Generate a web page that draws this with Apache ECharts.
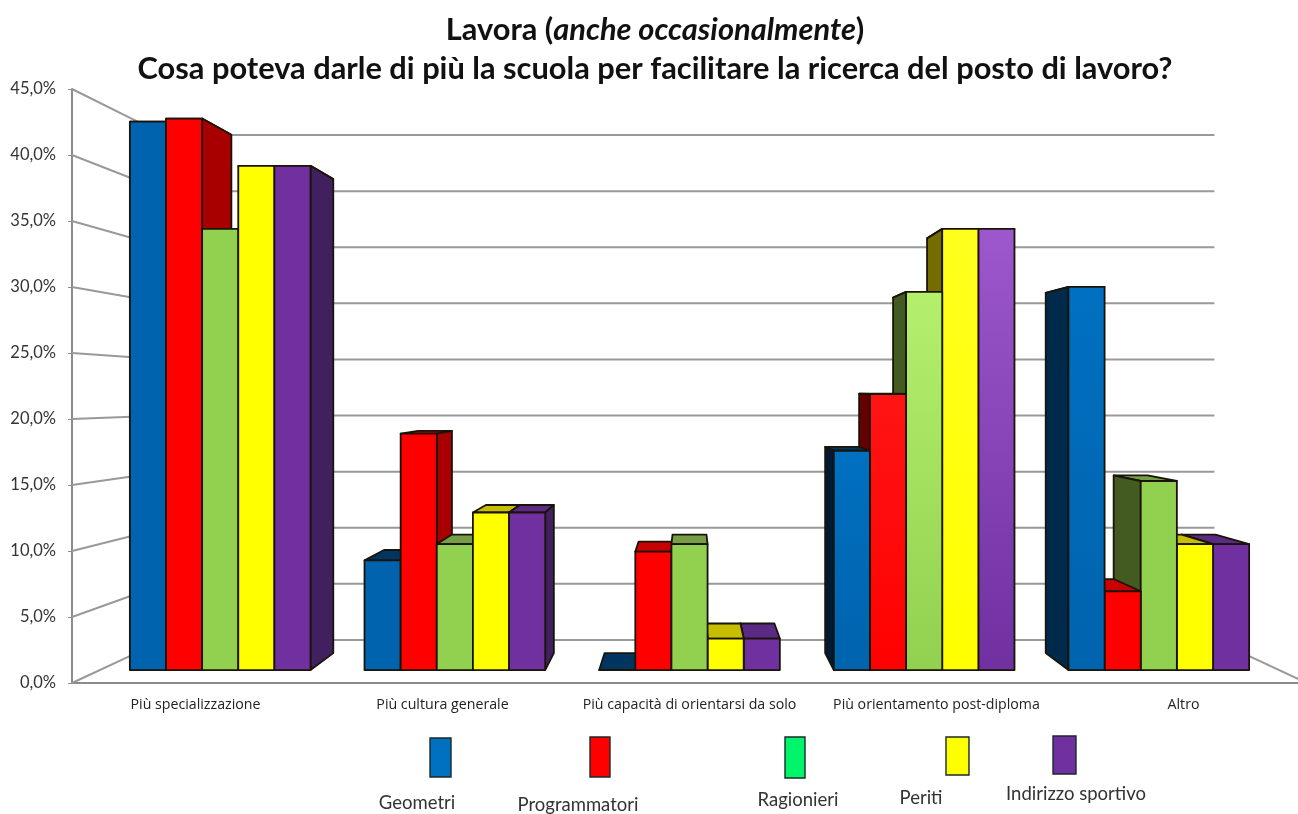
<!DOCTYPE html>
<html><head><meta charset="utf-8">
<style>html,body{margin:0;padding:0;background:#fff}#c{width:1298px;height:814px}</style>
<script src="https://cdn.jsdelivr.net/npm/echarts@6/dist/echarts.min.js"></script>
</head><body><div id="c"></div>
<script>
const categories = ['Più specializzazione','Più cultura generale','Più capacità di orientarsi da solo','Più orientamento post-diploma','Altro'];
const geometri = [43.5, 8.7, 0, 17.4, 30.4];
const programmatori = [43.75, 18.75, 9.4, 21.9, 6.25];
const ragionieri = [35, 10, 10, 30, 15];
const periti = [40, 12.5, 2.5, 35, 10];
const indirizzoSportivo = [40, 12.5, 2.5, 35, 10];
const yTicks = [0,5,10,15,20,25,30,35,40,45];

const seriesNames = ['Geometri','Programmatori','Ragionieri','Periti','Indirizzo sportivo'];
const seriesValues = [geometri, programmatori, ragionieri, periti, indirizzoSportivo];
const frontColors = ['#0063AE','#FF0000','#92D050','#FFFF00','#7030A0'];
const frontTopColors = ['#0070C0','#FF1414','#B4F06C','#FFFF1E','#9C58CC'];
const sideColors = ['#002A4C','#A80000','#435A20','#756C00','#41205F'];
const sideColorsDeep = ['#021A33','#650000','#435A20','#756C00','#41205F'];
const topColors = ['#003560','#C80000','#779E44','#C8BE00','#5A2A85'];
const legendColors = ['#0070C0','#FF0000','#00F56A','#FFFF00','#7030A0'];
const legendSwatches = [[430,738,21,39],[590,737,20,40],[785,737,20,41],[946,737,23,38],[1053,736,23,38]];
const legendLabels = [[417,803],[578,805],[798,800],[921,798],[1076,794]];

// Prospettiva della scatola 3D
const ROOM_VY = 396, BAR_VY = 387;
const WALL_KEEP = 0.85, PLANE_KEEP_X = 0.95, PLANE_KEEP_Y = 0.955, BAR_DEPTH_KEEP = 0.94;
const BAR_FRACTION = 0.154;
const EDGE = '#1a1408';

function barRenderer(s) {
  return function (params, api) {
    const cs = params.coordSys;
    const vx = cs.x + cs.width / 2;
    const i = api.value(0);
    const a = api.coord([i, 0]);
    const b = api.coord([i, api.value(1)]);
    const bw = api.size([1, 0])[0] * PLANE_KEEP_X * BAR_FRACTION;
    const center = vx + (a[0] - vx) * PLANE_KEEP_X;
    const x0 = center + (s - 2.5) * bw, x1 = x0 + bw;
    const yb = ROOM_VY + (a[1] - ROOM_VY) * PLANE_KEEP_Y;
    const yt = ROOM_VY + (b[1] - ROOM_VY) * PLANE_KEEP_Y;
    const bx = x => vx + (x - vx) * BAR_DEPTH_KEEP;
    const by = y => BAR_VY + (y - BAR_VY) * BAR_DEPTH_KEEP;
    const mid = (x0 + x1) / 2;
    const z = 1000 - Math.abs(mid - vx);
    const line = { stroke: EDGE, lineWidth: 1.8, lineJoin: 'round' };
    const kids = [];
    kids.push({ type: 'polygon', z2: z, shape: { points: [[x0, yt], [x1, yt], [bx(x1), by(yt)], [bx(x0), by(yt)]] },
      style: Object.assign({ fill: topColors[s] }, line) });
    const sideX = x1 < vx ? x1 : (x0 > vx ? x0 : null);
    if (sideX !== null) {
      const dark = i === 3 ? sideColorsDeep[s] : sideColors[s];
      kids.push({ type: 'polygon', z2: z + 0.1, shape: { points: [[sideX, yt], [sideX, yb], [bx(sideX), by(yb)], [bx(sideX), by(yt)]] },
        style: Object.assign({ fill: dark }, line) });
    }
    const fill = (i === 3 || (i === 4 && s === 0))
      ? new echarts.graphic.LinearGradient(0, 0, 0, 1, [{ offset: 0, color: frontTopColors[s] }, { offset: 1, color: frontColors[s] }])
      : frontColors[s];
    kids.push({ type: 'rect', z2: z + 0.2, shape: { x: x0, y: yt, width: bw, height: yb - yt },
      style: Object.assign({ fill }, line) });
    return { type: 'group', children: kids };
  };
}

function roomRenderer(params, api) {
  const cs = params.coordSys;
  const vx = cs.x + cs.width / 2;
  const p = api.coord([0, api.value(1)]);
  const wallHalf = cs.width / 2 * WALL_KEEP;
  const fy = p[1];
  const wy = ROOM_VY + (fy - ROOM_VY) * WALL_KEEP;
  const style = { stroke: '#999999', lineWidth: 2, fill: null };
  const kids = [{ type: 'polyline', shape: { points: [[cs.x, fy], [vx - wallHalf, wy], [vx + wallHalf, wy]] }, style }];
  if (api.value(1) === 0) {
    kids.push({ type: 'line', shape: { x1: vx + wallHalf, y1: wy, x2: cs.x + cs.width, y2: fy }, style });
  }
  return { type: 'group', children: kids };
}

const graphicEls = [];
seriesNames.forEach((n, k) => {
  const r = legendSwatches[k];
  graphicEls.push({ type: 'rect', shape: { x: r[0], y: r[1], width: r[2], height: r[3] },
    style: { fill: legendColors[k], stroke: '#1a2a2a', lineWidth: 1.4 } });
  graphicEls.push({ type: 'text', x: legendLabels[k][0], y: legendLabels[k][1],
    style: { text: n, fill: '#333', font: '18.5px Lato', textAlign: 'center', textVerticalAlign: 'middle' } });
});

const chart = echarts.init(document.getElementById('c'), null, { renderer: 'canvas' });
chart.setOption({
  animation: false,
  backgroundColor: '#fff',
  textStyle: { fontFamily: 'Lato' },
  title: {
    left: 650, textAlign: 'center', top: 6,
    text: '{n|Lavora (}{i|anche occasionalmente}{n|)}\n{n|Cosa poteva darle di più la scuola per facilitare la ricerca del posto di lavoro?}',
    textStyle: { rich: {
      n: { fontFamily: 'Lato', fontWeight: 'bold', fontSize: 30.8, lineHeight: 39, color: '#111' },
      i: { fontFamily: 'Lato', fontWeight: 'bold', fontStyle: 'italic', fontSize: 30.8, lineHeight: 39, color: '#111' }
    } }
  },
  grid: { left: 72, width: 1235, top: 89, height: 594, outerBoundsMode: 'none' },
  xAxis: {
    type: 'category', data: categories,
    axisLine: { lineStyle: { color: '#8c8c8c', width: 2 } },
    axisTick: { alignWithLabel: false, length: 4, lineStyle: { color: '#8c8c8c' } },
    axisLabel: { interval: 0, fontSize: 14.2, fontFamily: 'Open Sans', color: '#222', margin: 15 }
  },
  yAxis: {
    type: 'value', min: 0, max: 45, interval: 5,
    axisLine: { show: true, lineStyle: { color: '#8c8c8c', width: 2 } },
    axisTick: { show: true, length: 4, lineStyle: { color: '#8c8c8c' } },
    splitLine: { show: false },
    axisLabel: { fontSize: 16.5, color: '#333', margin: 16, padding: [3, 0, 0, 0], formatter: v => v.toFixed(1).replace('.', ',') + '%' }
  },
  series: [
    { type: 'custom', name: 'griglia', z: 1, silent: true, clip: false, renderItem: roomRenderer,
      encode: { x: 0, y: 1 }, data: yTicks.map(t => [0, t]) }
  ].concat(seriesNames.map((n, s) => ({
    type: 'custom', name: n, z: 2, silent: true, renderItem: barRenderer(s), encode: { x: 0, y: 1 },
    data: seriesValues[s].map((v, i) => [i, v])
  }))),
  graphic: graphicEls
});
</script></body></html>
